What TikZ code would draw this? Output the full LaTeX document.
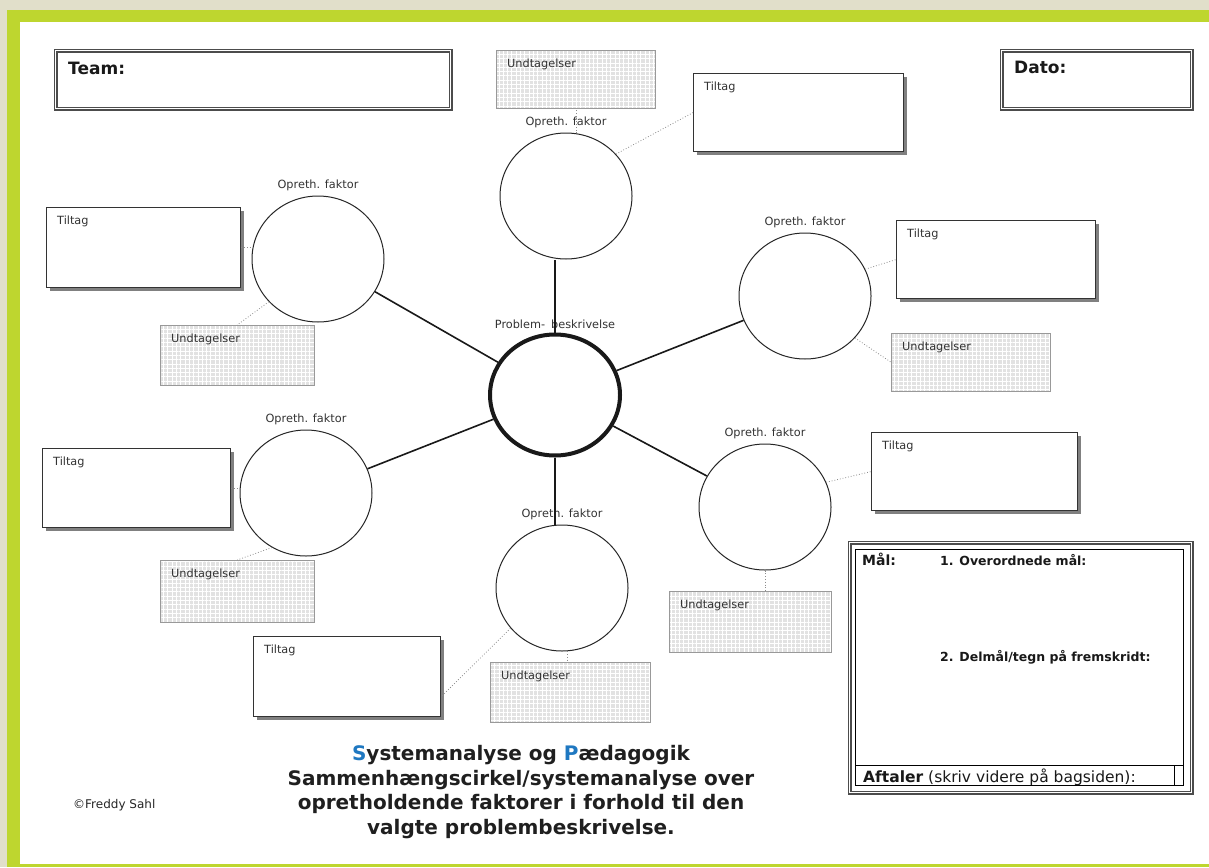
\documentclass[tikz,border=0pt]{standalone}
\usepackage{fontspec}
\setmainfont{DejaVu Sans}
\usetikzlibrary{shapes.geometric,shadows,patterns.meta,calc}

\definecolor{paper}{HTML}{E1DFCA}
\definecolor{framegreen}{HTML}{BED62F}
\definecolor{titleblue}{HTML}{1F78C1}
\definecolor{gridgray}{HTML}{E2E2E2}

\tikzset{
  lbl/.style={font=\fontsize{11.3}{13}\selectfont, text=black!80, inner sep=0pt},
  factor/.style={ellipse, draw=black!85, line width=1pt, fill=white, inner sep=0pt,
    minimum width=132pt, minimum height=126pt,
    label={[lbl, label distance=4pt]above:Opreth. faktor}},
  tiltag/.style={draw=black!80, line width=1.2pt, fill=white, anchor=north west, inner sep=0pt,
    drop shadow={shadow xshift=3pt, shadow yshift=-3pt, fill=black!50, opacity=1},
    label={[lbl, anchor=north west, label distance=0pt, xshift=11pt, yshift=-9pt]north west:Tiltag}},
  undtag/.style={fill=gridgray, anchor=north west, inner sep=0pt,
    postaction={pattern={Hatch[distance=4.3pt, line width=0.6pt]}, pattern color=white},
    postaction={draw=black!40, line width=0.8pt},
    label={[lbl, anchor=north west, label distance=0pt, xshift=11pt, yshift=-9pt]north west:Undtagelser}},
  spoke/.style={line width=1.6pt, black!90},
  tie/.style={draw=black!45, dotted, line width=0.8pt},
  infobox/.style={draw=black!70, double=white, double distance=1.6pt, line width=1.2pt,
    anchor=north west, inner sep=0pt},
  boxhead/.style={font=\bfseries\fontsize{17}{20}\selectfont, text=black!90, inner sep=0pt},
}

\begin{document}
\begin{tikzpicture}[x=1pt, y=-1pt]
  % page and frame
  \useasboundingbox (0,0) rectangle (1209,867);
  \fill[paper] (0,0) rectangle (1209,867);
  \fill[framegreen] (7,10) rectangle (1209,867);
  \fill[white] (20,22) rectangle (1209,864);

  % header boxes
  \node[infobox, minimum width=395pt, minimum height=58pt,
    label={[boxhead, anchor=north west, label distance=0pt, xshift=13pt, yshift=-12pt]north west:Team:}] (team) at (55,50) {};
  \node[infobox, minimum width=190pt, minimum height=58pt,
    label={[boxhead, anchor=north west, label distance=0pt, xshift=13pt, yshift=-11pt]north west:Dato:}] (dato) at (1001,50) {};

  % centre
  \node[ellipse, draw=black!90, line width=4pt, fill=white, inner sep=0pt,
    minimum width=130pt, minimum height=121pt,
    label={[lbl, label distance=4pt]above:Problem-\hspace{6pt}beskrivelse}] (prob) at (555,395) {};

  % opretholdende faktorer
  \foreach \n/\x/\y in {f1/566/196, f2/318/259, f3/805/296, f4/306/493, f5/765/507, f6/562/588}{
    \node[factor] (\n) at (\x,\y) {};
  }
  \draw[spoke] (prob.north) -- (prob.north |- f1.south);
  \draw[spoke] (prob.south) -- (prob.south |- f6.north);
  \foreach \n in {f2,f3,f4,f5}{
    \draw[spoke] (prob) -- (\n);
  }

  % tiltag
  \node[tiltag, minimum width=210pt, minimum height=78pt] (t1) at (693,73) {};
  \node[tiltag, minimum width=194pt, minimum height=80pt] (t2) at (46,207) {};
  \node[tiltag, minimum width=199pt, minimum height=78pt] (t3) at (896,220) {};
  \node[tiltag, minimum width=188pt, minimum height=79pt] (t4) at (42,448) {};
  \node[tiltag, minimum width=206pt, minimum height=78pt] (t5) at (871,432) {};
  \node[tiltag, minimum width=187pt, minimum height=80pt] (t6) at (253,636) {};

  % undtagelser
  \node[undtag, minimum width=159pt, minimum height=58pt] (u1) at (496,50) {};
  \node[undtag, minimum width=154pt, minimum height=60pt] (u2) at (160,325) {};
  \node[undtag, minimum width=159pt, minimum height=58pt] (u3) at (891,333) {};
  \node[undtag, minimum width=154pt, minimum height=62pt] (u4) at (160,560) {};
  \node[undtag, minimum width=162pt, minimum height=61pt] (u5) at (669,591) {};
  \node[undtag, minimum width=160pt, minimum height=60pt] (u6) at (490,662) {};

  % dotted ties
  \draw[tie] (f1.81) -- (f1.81 |- u1.south);
  \draw[tie] (f1.40) -- (t1.west);
  \draw[tie] (t2.east) -- (t2.east -| f2.west);
  \draw[tie] (f2.221) -- (u2.north);
  \draw[tie] (f3.24) -- (t3.west);
  \draw[tie] (f3.320) -- (u3.west);
  \draw[tie] (t4.east) -- (t4.east -| f4.west);
  \draw[tie] (f4.238) -- (u4.north);
  \draw[tie] (f5.22) -- (t5.west);
  \draw[tie] (f5.south) -- (f5.south |- u5.north);
  \draw[tie] (f6.218) -- ([yshift=-20pt]t6.east);
  \draw[tie] (f6.275) -- (f6.275 |- u6.north);

  % maal
  \node[infobox, minimum width=342pt, minimum height=250pt] (maal) at (849,542) {};
  \draw[black, line width=0.9pt] (855,549) rectangle (1183,785);
  \draw[black, line width=0.9pt] (855,765) -- (1183,765);
  \draw[black, line width=0.9pt] (1174,765) -- (1174,785);
  \node[anchor=base west, inner sep=0pt, font=\bfseries\fontsize{14}{17}\selectfont, text=black!90] (maalhead) at (862,565) {Mål:};
  \node[anchor=base west, inner sep=0pt, font=\bfseries\fontsize{12.5}{15}\selectfont, text=black!90] (goal1) at (940,565) {1. Overordnede mål:};
  \node[anchor=base west, inner sep=0pt, font=\bfseries\fontsize{12.5}{15}\selectfont, text=black!90] (goal2) at (940,661) {2. Delmål/tegn på fremskridt:};
  \node[anchor=base west, inner sep=0pt, font=\fontsize{15.5}{18}\selectfont, text=black!90] (aftaler) at (863,782) {\textbf{Aftaler} (skriv videre på bagsiden):};

  % title and credit
  \node[align=center, inner sep=0pt, font=\bfseries\fontsize{20}{24.7}\selectfont, text=black!88] (title) at (521,792)
    {\textcolor{titleblue}{S}ystemanalyse og \textcolor{titleblue}{P}ædagogik\\
     Sammenhængscirkel/systemanalyse over\\
     opretholdende faktorer i forhold til den\\
     valgte problembeskrivelse.};
  \node[anchor=base west, inner sep=0pt, font=\fontsize{12}{14}\selectfont, text=black!85] (credit) at (73,808) {©Freddy Sahl};
\end{tikzpicture}
\end{document}
